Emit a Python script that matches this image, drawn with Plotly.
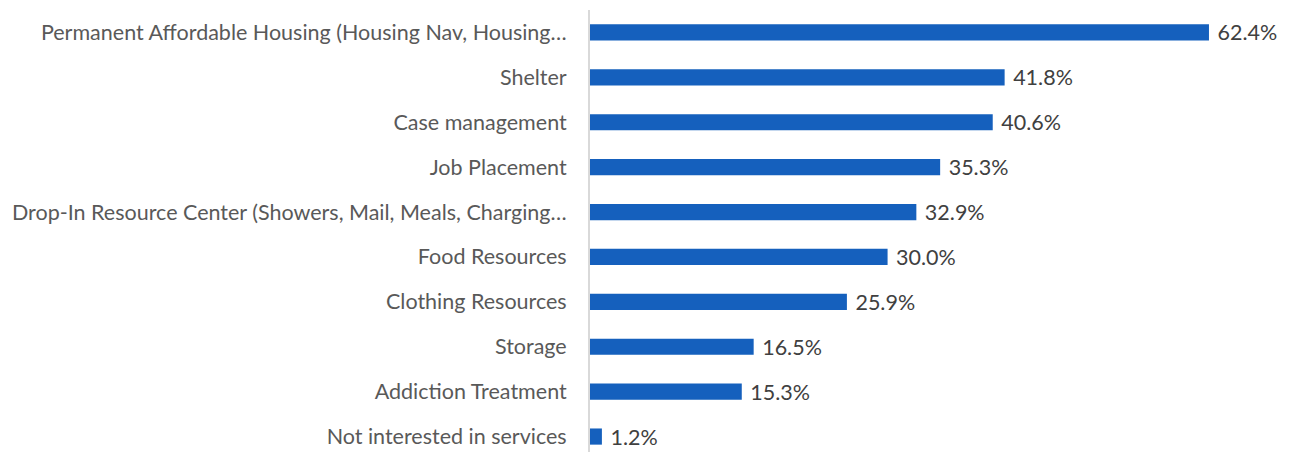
import plotly.graph_objects as go

categories = [
    "Permanent Affordable Housing (Housing Nav, Housing…",
    "Shelter",
    "Case management",
    "Job Placement",
    "Drop-In Resource Center (Showers, Mail, Meals, Charging…",
    "Food Resources",
    "Clothing Resources",
    "Storage",
    "Addiction Treatment",
    "Not interested in services",
]
values = [62.4, 41.8, 40.6, 35.3, 32.9, 30.0, 25.9, 16.5, 15.3, 1.2]
labels = [f"\u00a0{v:.1f}%" for v in values]

FONT = "Lato"

fig = go.Figure(go.Bar(
    x=values, y=categories, orientation="h",
    marker=dict(color="#1560BD", line=dict(width=0)),
    text=labels, textposition="outside", cliponaxis=False,
    constraintext="none",
    textfont=dict(size=21.5, color="#404040", family=FONT),
))

# page body has an 8px margin, so the figure starts at (8, 8)
fig.update_layout(
    width=1283, height=444,
    margin=dict(l=582, r=0, t=2, b=0),
    paper_bgcolor="white", plot_bgcolor="white",
    bargap=0.64, showlegend=False,
    font=dict(family=FONT, size=21.5, color="#595959"),
)
fig.update_xaxes(range=[0, 70.67], visible=False)
fig.update_yaxes(
    type="category", range=[9.344, -0.5],
    showline=True, linecolor="#d9d9d9", linewidth=2,
    showgrid=False, ticks="", ticklabelstandoff=17,
    tickfont=dict(size=21.5, color="#595959", family=FONT),
)

fig.write_html("out.html")
